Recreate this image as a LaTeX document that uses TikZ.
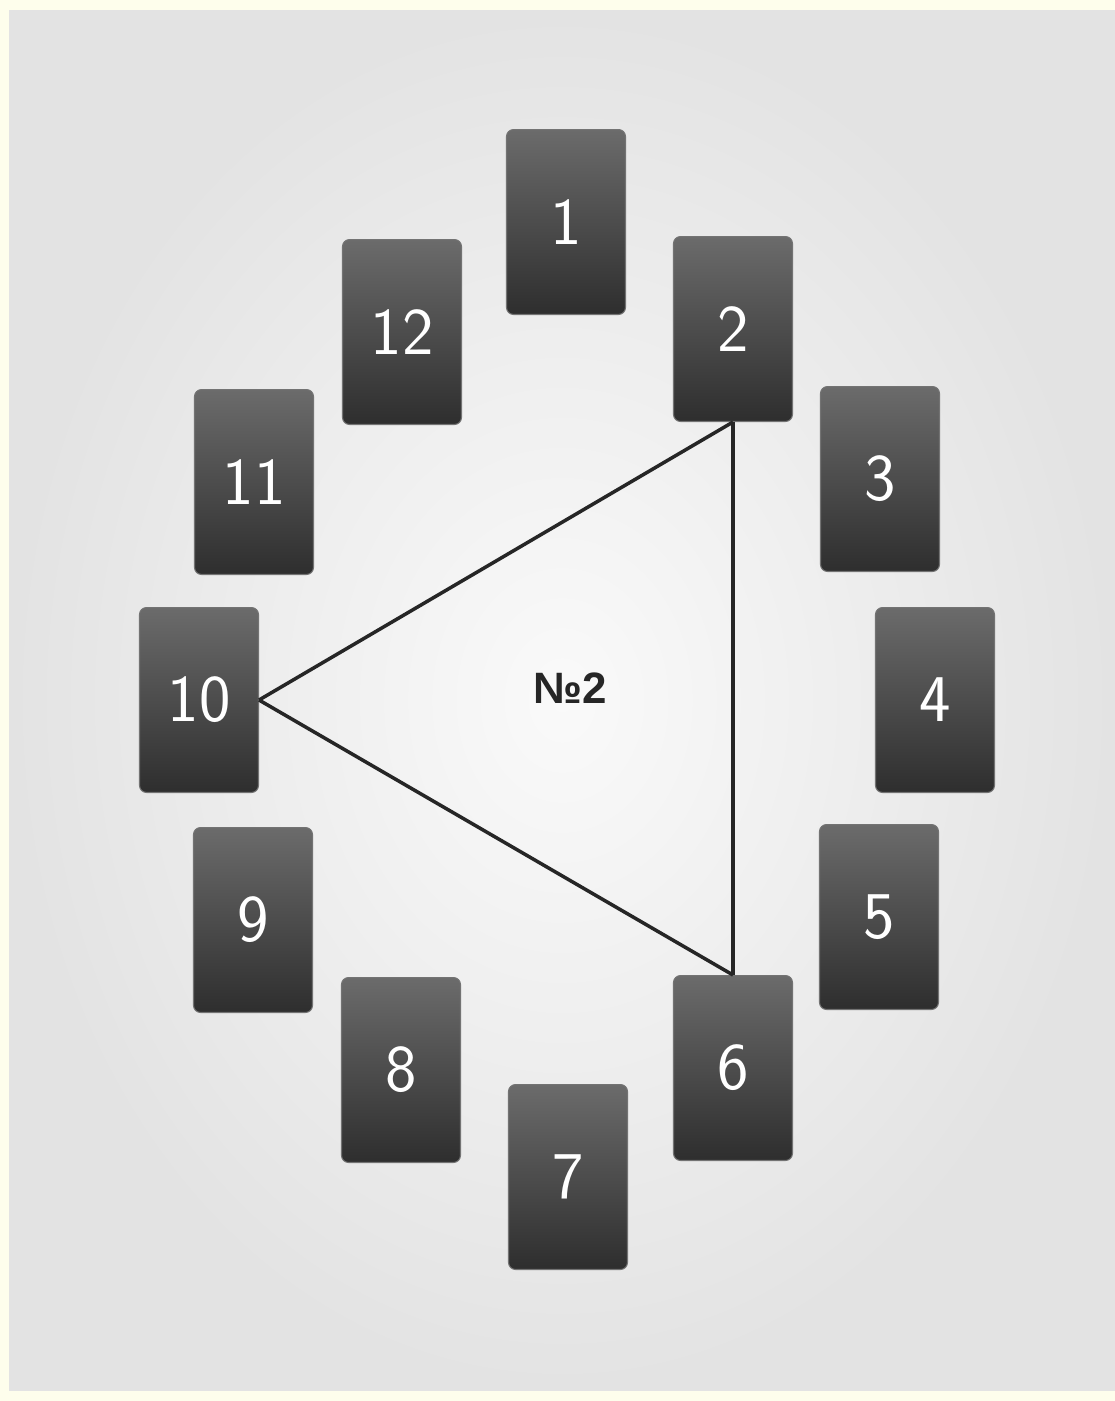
\documentclass[tikz,border=0pt]{standalone}
\usepackage{fontspec}
\newfontfamily\labelfont{Liberation Sans}
\usepackage{tikz}
\usetikzlibrary{positioning}

\definecolor{paper}{HTML}{FEFEEC}
\definecolor{cardtop}{HTML}{6B6B6B}
\definecolor{cardbot}{HTML}{2E2E2E}

\begin{document}
\begin{tikzpicture}[
    x=0.02cm, y=-0.02cm,
    card/.style={
        rounded corners=4pt,
        draw=black!55,
        line width=0.6pt,
        top color=cardtop,
        bottom color=cardbot,
        minimum width=2.38cm,
        minimum height=3.7cm,
        inner sep=0pt,
        text=white,
        font=\sffamily\fontsize{38}{38}\selectfont
    },
    edge/.style={line width=2pt, black!85}
]
    % background
    \fill[paper] (0,0) rectangle (1115,1401);
    \shade[inner color=black!2, outer color=black!11] (9,10) rectangle (1115,1390);
    \useasboundingbox (0,0) rectangle (1115,1401);

    \node[card] (card1)  at (566,222)  {1};
    \node[card] (card2)  at (733,329)  {2};
    \node[card] (card3)  at (880,479)  {3};
    \node[card] (card4)  at (935,700)  {4};
    \node[card] (card5)  at (879,917)  {5};
    \node[card] (card6)  at (733,1068) {6};
    \node[card] (card7)  at (568,1177) {7};
    \node[card] (card8)  at (401,1070) {8};
    \node[card] (card9)  at (253,920)  {9};
    \node[card] (card10) at (199,700)  {10};
    \node[card] (card11) at (254,482)  {11};
    \node[card] (card12) at (402,332)  {12};

    \node[font=\labelfont\bfseries\fontsize{25}{25}\selectfont, text=black!85] (title) at (570,688) {№2};

    \draw[edge] (card2.south) -- (card10.east);
    \draw[edge] (card10.east) -- (card6.north);
    \draw[edge] (card6.north) -- (card2.south);
\end{tikzpicture}
\end{document}
